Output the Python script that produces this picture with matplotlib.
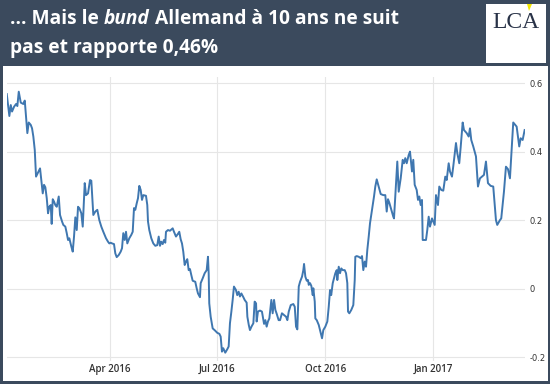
import matplotlib
matplotlib.use('Agg')
import matplotlib.pyplot as plt
import matplotlib.dates as mdates
from matplotlib.patches import Rectangle, Polygon
import numpy as np
import pandas as pd

# German 10y bund yield, days counted from 2016-01-01
days = [3.2, 5.4, 6.6, 7.7, 9.4, 11.1, 12.2, 13.4, 15.1, 17.3, 18.5, 19.6, 20.7, 21.9,
        23.6, 24.7, 25.8, 27.0, 28.1, 29.8, 31.5, 32.6, 33.8, 34.9, 36.0, 37.2, 38.3,
        39.4, 40.6, 41.4, 42.3, 43.4, 44.5, 45.7, 47.4, 48.5, 50.2, 51.3, 53.0, 54.2,
        55.3, 56.4, 58.1, 59.3, 60.4, 61.5, 62.7, 63.8, 64.9, 66.6, 67.8, 69.5, 70.6,
        72.3, 74.0, 75.1, 76.8, 78.5, 80.2, 81.9, 83.6, 85.3, 87.6, 89.3, 90.4, 91.6,
        92.7, 94.4, 95.5, 96.7, 98.4, 100.1, 101.2, 102.3, 103.5, 104.6, 105.7, 107.4,
        109.1, 110.3, 111.4, 112.5, 113.7, 114.8, 115.9, 117.1, 118.2, 119.3, 121.6,
        122.7, 123.3, 124.4, 126.1, 127.8, 129.5, 131.2, 132.4, 133.5, 134.6, 135.8,
        136.9, 138.0, 138.6, 140.3, 142.0, 144.3, 145.4, 147.1, 148.8, 149.9, 151.1,
        152.2, 153.3, 154.5, 155.6, 156.7, 157.9, 159.0, 160.1, 161.3, 163.5, 164.7,
        165.8, 167.5, 168.1, 169.8, 171.5, 173.2, 174.3, 174.9, 175.4, 176.6, 178.3,
        180.5, 182.2, 184.0, 185.1, 186.2, 187.3, 189.0, 190.7, 191.9, 193.0, 194.2,
        195.3, 196.4, 198.1, 199.2, 200.4, 201.5, 202.7, 204.4, 205.5, 207.2, 207.8,
        209.0, 210.0, 211.3, 212.9, 214.0, 215.2, 215.7, 216.8, 218.5, 220.2, 222.0,
        223.1, 224.2, 225.3, 226.5, 228.2, 229.3, 230.5, 231.6, 232.8, 234.4, 235.6,
        237.2, 239.0, 240.7, 241.8, 243.0, 244.7, 246.9, 248.1, 249.2, 250.3, 251.5,
        252.6, 254.3, 255.4, 256.0, 257.1, 258.3, 259.4, 260.0, 261.1, 262.2, 263.4,
        263.9, 265.1, 265.6, 266.8, 268.5, 269.6, 271.3, 272.4, 274.1, 275.8, 277.0,
        278.1, 279.1, 280.4, 281.5, 282.6, 283.8, 284.3, 285.5, 286.6, 287.7, 288.9,
        290.6, 291.7, 292.8, 293.4, 294.5, 296.2, 297.9, 299.1, 299.6, 300.8, 302.5,
        304.2, 305.3, 306.4, 307.6, 308.7, 309.8, 311.0, 312.1, 313.8, 315.5, 316.6,
        317.8, 319.5, 321.2, 323.4, 325.1, 326.3, 327.4, 328.5, 330.2, 331.9, 332.5,
        335.3, 336.5, 338.2, 339.9, 341.0, 342.1, 343.3, 345.0, 346.1, 347.8, 348.9,
        350.1, 351.8, 352.9, 354.0, 355.2, 356.3, 356.9, 359.7, 360.8, 362.0, 363.1,
        364.8, 367.1, 368.2, 369.9, 371.0, 372.7, 374.4, 376.1, 377.3, 379.0, 380.1,
        381.8, 382.9, 385.2, 386.3, 388.0, 389.2, 390.9, 392.0, 394.3, 396.0, 397.1,
        398.2, 399.9, 402.2, 403.9, 405.6, 407.3, 409.0, 410.7, 412.4, 414.7, 416.9,
        419.2, 420.3, 422.6, 423.7, 426.0, 427.7, 429.4, 431.1, 433.9, 436.8, 439.0,
        440.2, 441.9, 443.6]
yields = [.569, .505, .537, .518, .532, .540, .534, .576, .544, .540, .550, .503, .455, .486,
          .479, .469, .445, .406, .328, .340, .352, .318, .279, .304, .297, .265, .221,
          .240, .245, .190, .262, .255, .245, .240, .270, .216, .197, .187, .182, .163,
          .143, .148, .124, .109, .153, .209, .172, .240, .236, .221, .182, .309, .274,
          .279, .318, .316, .216, .226, .231, .201, .182, .167, .148, .138, .133, .135,
          .133, .131, .104, .093, .099, .109, .119, .163, .143, .167, .133, .148,
          .158, .167, .236, .231, .250, .265, .301, .289, .260, .274, .272,
          .245, .197, .172, .148, .133, .126, .128, .153, .126, .138, .131,
          .143, .135, .167, .172, .170, .177, .167, .153, .161, .167, .145,
          .133, .109, .070, .080, .087, .055, .058, .041, .024, .021, .002,
          -.013, -.024, .017, .031, .046, .055, .094, .046, -.042, -.081, -.115,
          -.122, -.128, -.131, -.139, -.183, -.173, -.186, -.176, -.168, -.100, -.066,
          -.032, .007, -.003, -.018, -.008, -.022, -.013, -.024, -.032, -.040, -.081,
          -.105, -.120, -.110, -.100, -.037, -.042, -.095, -.066, -.063, -.066, -.102,
          -.091, -.110, -.095, -.086, -.032, -.071, -.032, -.061, -.073, -.091, -.091,
          -.071, -.076, -.081, -.091, -.066, -.047, -.044, -.052, -.110, -.118, .007,
          .021, .036, .055, .073, .036, .024, .026, .012, .017, .009, -.018,
          .002, -.037, -.086, -.091, -.105, -.120, -.144, -.120, -.110, -.095, -.052,
          -.003, -.018, .017, .031, .046, .055, .026, .065, .046, .060, .055,
          .055, .046, .017, -.066, -.071, -.061, -.047, .026, .094, .096, .094,
          .090, .096, .055, .080, .065, .114, .153, .192, .231, .270, .299,
          .320, .299, .277, .274, .274, .226, .262, .252, .231, .211, .206,
          .372, .284, .323, .377, .367, .382, .367, .391, .401, .343, .377,
          .304, .289, .260, .270, .245, .260, .143, .143, .172, .211, .182,
          .206, .187, .274, .245, .299, .289, .287, .328, .318, .367, .343,
          .328, .358, .426, .397, .367, .414, .486, .464, .455, .445, .469,
          .435, .416, .387, .299, .323, .328, .333, .372, .309, .301, .299,
          .201, .187, .201, .206, .284, .357, .350, .323, .486, .474, .416,
          .440, .435, .464]

y_ticks = [-0.2, 0, 0.2, 0.4, 0.6]
y_labels = ['-0.2', '0', '0.2', '0.4', '0.6']
title_parts = [('... Mais le ', 'normal'), ('bund', 'italic'), (' Allemand à 10 ans ne suit', 'normal')]
title_line2 = 'pas et rapporte 0,46%'

navy = '#3b4a5d'
W, H = 550, 384
fig = plt.figure(figsize=(W / 100, H / 100), dpi=100, facecolor=navy)

# white panel behind the chart
fig.patches.append(Rectangle((3 / W, 1 - 381 / H), 545 / W, 315 / H, transform=fig.transFigure,
                             facecolor='white', edgecolor='none', zorder=-5))

ax = fig.add_axes([7 / W, 1 - 360.9 / H, 518 / W, 284.3 / H])
ax.set_facecolor('none')
base = pd.Timestamp('2016-01-01')
dates = base + pd.to_timedelta(days, unit='D')
ax.plot(dates, yields, color='#3f77b0', lw=1.4, solid_joinstyle='round')

ax.set_xlim(base + pd.Timedelta(days=3.4), base + pd.Timedelta(days=443.9))
ax.set_ylim(-0.21, 0.62)
ax.xaxis.set_major_locator(mdates.MonthLocator(bymonth=[1, 4, 7, 10]))
ax.xaxis.set_major_formatter(mdates.DateFormatter('%b %Y'))
ax.set_yticks(y_ticks)
ax.set_yticklabels(y_labels)
ax.yaxis.tick_right()
ax.grid(color='#e6e6e6', lw=0.8)
ax.set_axisbelow(True)
for s in ax.spines.values():
    s.set_visible(False)
ax.tick_params(length=0)
ax.tick_params(axis='y', pad=3, labelsize=6, labelcolor='#333333')
ax.tick_params(axis='x', pad=2, labelcolor='#333333')
for lab in ax.get_xticklabels():
    lab.set_fontfamily('Open Sans')
    lab.set_fontweight('semibold')
    lab.set_fontsize(7)

# title, first line built from pieces so 'bund' can be italic
r = fig.canvas.get_renderer()
x = 10 / W
for s, style in title_parts:
    t = fig.text(x, 1 - 24 / H, s, color='white', fontsize=13.8, fontweight='bold',
                 fontstyle=style, family='Open Sans', va='baseline', ha='left')
    x = t.get_window_extent(r).x1 / fig.bbox.width
fig.text(10 / W, 1 - 53 / H, title_line2, color='white', fontsize=13.8, fontweight='bold',
         family='Open Sans', va='baseline', ha='left')

# logo
fig.patches.append(Rectangle((486 / W, 1 - 63 / H), 60 / W, 59 / H,
                             transform=fig.transFigure, facecolor='white', edgecolor='none'))
fig.text(516 / W, 1 - 28 / H, 'LCA', color='#283247', fontsize=17, family='Liberation Serif',
         ha='center', va='baseline')
fig.patches.append(Polygon([(527 / W, 1 - 4 / H), (532 / W, 1 - 4 / H), (529 / W, 1 - 11 / H)],
                           closed=True, transform=fig.transFigure, facecolor='#f2e600', edgecolor='none'))

fig.savefig('out.png', dpi=100, facecolor=navy)
